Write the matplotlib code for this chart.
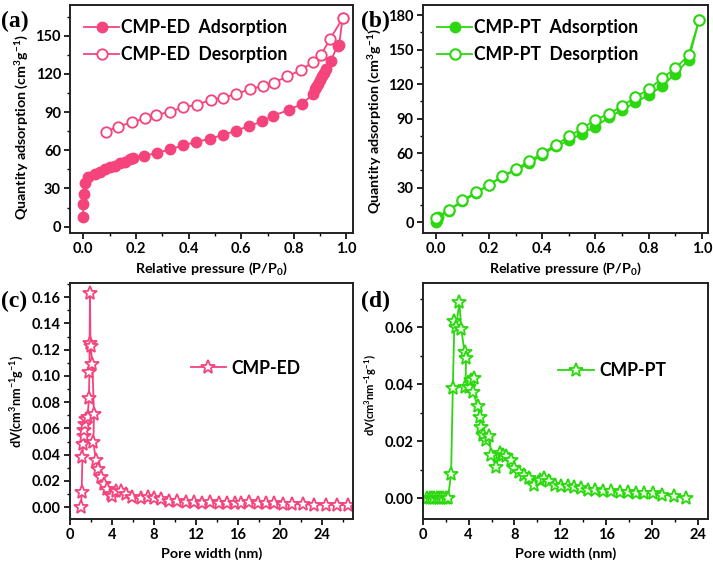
import numpy as np
import matplotlib
matplotlib.use('Agg')
import matplotlib.pyplot as plt
from matplotlib.ticker import MultipleLocator

# (a) CMP-ED isotherm
ed_ads_p = [0.0, 0.0, 0.003, 0.006, 0.019, 0.044, 0.063, 0.082, 0.101, 0.12, 0.139, 0.158, 0.177,
            0.19, 0.23, 0.28, 0.33, 0.38, 0.43, 0.48, 0.53, 0.58, 0.63, 0.68, 0.72, 0.78, 0.83,
            0.873, 0.88, 0.886, 0.89, 0.9, 0.906, 0.914, 0.924, 0.94, 0.966, 0.972, 0.985]
ed_ads_q = [7.9, 17.8, 26, 34.6, 38.7, 41, 43, 45, 46.6, 48, 49.7, 51, 53,
            54, 55.5, 58, 60.7, 64, 66.5, 69, 72, 75.4, 79, 82.7, 87, 91.6, 96.3,
            104, 108, 110, 112, 115, 118, 121, 124, 130, 142, 142.6, 163.6]
ed_des_p = [0.985, 0.937, 0.903, 0.871, 0.827, 0.775, 0.724, 0.684, 0.633, 0.58, 0.53,
            0.484, 0.433, 0.38, 0.33, 0.278, 0.234, 0.184, 0.133, 0.086]
ed_des_q = [163.6, 147, 135, 129, 123, 118, 113, 110.5, 108, 104, 101.3,
            99.5, 95.8, 93.7, 90.3, 87.7, 85, 82, 78.5, 74.6]

# (b) CMP-PT isotherm
pt_ads_p = [0.0, 0.003, 0.008, 0.05, 0.1, 0.15, 0.2, 0.25, 0.3, 0.35, 0.4, 0.45, 0.5, 0.55,
            0.6, 0.65, 0.7, 0.75, 0.8, 0.85, 0.9, 0.95, 0.99]
pt_ads_q = [0.3, 2, 4, 10, 18, 25, 32, 39.6, 45, 51, 58.5, 65.7, 71, 77,
            83, 91, 97.5, 104, 110.5, 118, 129, 141, 176]
pt_des_p = [0.99, 0.95, 0.9, 0.85, 0.8, 0.75, 0.7, 0.65, 0.6, 0.55, 0.5, 0.45, 0.4,
            0.35, 0.3, 0.25, 0.2, 0.15, 0.1, 0.05, 0.0]
pt_des_q = [176, 145, 133.7, 125, 115.5, 108.5, 101, 94, 89, 81.6, 74.4, 67, 60,
            52.7, 46, 40, 32.4, 25.8, 18.8, 10.7, 3.5]

# (c) CMP-ED pore size distribution
ed_w = [1.05, 1.11, 1.18, 1.24, 1.3, 1.37, 1.43, 1.52, 1.68, 1.8, 1.85, 1.9, 1.95, 1.97,
        2.13, 2.29, 2.23, 2.45, 2.67, 2.93, 3.25, 3.57, 3.89, 4.04, 4.36, 4.84, 5.3,
        5.96, 6.75, 7.4, 8.0, 8.66, 9.46, 10.25, 11.05, 11.85, 12.6, 13.4, 14.2, 15.0,
        15.7, 16.3, 17.1, 17.9, 18.7, 19.5, 20.3, 21.2, 22.2, 23.3, 24.4, 25.5, 26.5]
ed_dv = [0.0, 0.0113, 0.038, 0.048, 0.054, 0.059, 0.063, 0.0675, 0.0686, 0.083, 0.103, 0.163,
         0.125, 0.123, 0.109, 0.071, 0.05, 0.036, 0.029, 0.0226, 0.0176, 0.0138, 0.01,
         0.0085, 0.0125, 0.012, 0.01, 0.008, 0.007, 0.0075, 0.0072, 0.0063, 0.005, 0.0045,
         0.004, 0.0038, 0.0035, 0.0042, 0.0033, 0.003, 0.0028, 0.003, 0.0038, 0.0033,
         0.003, 0.0028, 0.0026, 0.0023, 0.0022, 0.002, 0.0018, 0.0017, 0.0015]

# (d) CMP-PT pore size distribution
pt_w = [0.4, 0.6, 0.8, 1.0, 1.2, 1.4, 1.6, 1.8, 2.0, 2.2, 2.47, 2.62, 2.76, 2.9, 3.2, 3.35,
        3.64, 3.78, 3.72, 4.07, 4.2, 4.5, 4.36, 4.8, 4.95, 5.1, 5.24, 5.5, 5.82, 5.96, 6.4,
        6.7, 6.98, 7.27, 7.7, 8.0, 8.44, 8.87, 9.3, 9.75, 10.2, 10.6, 11.05, 11.5, 12.07,
        12.65, 13.2, 13.8, 14.4, 15.0, 15.7, 16.4, 17.2, 17.9, 18.6, 19.35, 20.1, 20.9,
        21.96, 23.0]
pt_dv = [0, 0, 0, 0, 0, 0, 0, 0, 0, 0, 0.0085, 0.0385, 0.0623, 0.06, 0.0687, 0.0594,
         0.0513, 0.049, 0.039, 0.039, 0.0414, 0.042, 0.0373, 0.0323, 0.0285, 0.025, 0.022,
         0.0204, 0.0216, 0.015, 0.011, 0.0157, 0.0151, 0.0146, 0.0134, 0.0105, 0.0093,
         0.0082, 0.007, 0.0047, 0.0064, 0.007, 0.0058, 0.0047, 0.0043, 0.0041, 0.0038,
         0.0035, 0.0029, 0.0027, 0.0023, 0.0023, 0.0021, 0.002, 0.0017, 0.0017, 0.0017,
         0.0012, 0.0006, 0.0]

PINK = '#F5437C'
GREEN = '#2BD80F'
FONT = 'Lato'
TICK_FS = 10.5
LABEL_FS = 10.3
LEG_FS = 12.7

plt.rcParams['font.family'] = FONT
plt.rcParams['font.weight'] = 'bold'
plt.rcParams['axes.labelweight'] = 'bold'
plt.rcParams['mathtext.fontset'] = 'custom'
plt.rcParams['mathtext.rm'] = 'Lato:bold'
plt.rcParams['mathtext.it'] = 'Lato:bold'
plt.rcParams['mathtext.bf'] = 'Lato:bold'

fig = plt.figure(figsize=(7.13, 5.63), dpi=100)
ax_a = fig.add_axes([0.0982, 0.586, 0.397, 0.405])
ax_b = fig.add_axes([0.593, 0.586, 0.4, 0.405])
ax_c = fig.add_axes([0.0982, 0.078, 0.397, 0.419])
ax_d = fig.add_axes([0.593, 0.078, 0.4, 0.419])


def style(ax, xmaj, ymaj):
    for s in ax.spines.values():
        s.set_linewidth(1.4)
        s.set_color('#222222')
    ax.xaxis.set_major_locator(MultipleLocator(xmaj))
    ax.xaxis.set_minor_locator(MultipleLocator(xmaj / 2))
    ax.yaxis.set_major_locator(MultipleLocator(ymaj))
    ax.yaxis.set_minor_locator(MultipleLocator(ymaj / 2))
    ax.tick_params(which='major', direction='out', length=4, width=1.2, labelsize=TICK_FS,
                   top=False, right=False, pad=2.5)
    ax.tick_params(which='minor', direction='out', length=2.5, width=1.0,
                   top=False, right=False)


# (a)
ax_a.plot(ed_ads_p, ed_ads_q, '-o', color=PINK, lw=1.3, ms=7.5, mfc=PINK, mec=PINK,
          label='CMP-ED  Adsorption')
ax_a.plot(ed_des_p, ed_des_q, '-o', color=PINK, lw=1.3, ms=7.5, mfc='white', mec=PINK,
          mew=1.3, label='CMP-ED  Desorption')
ax_a.set_xlim(-0.05, 1.025)
ax_a.set_ylim(-5, 174)
style(ax_a, 0.2, 30)
ax_a.xaxis.set_major_formatter(plt.FormatStrFormatter('%.1f'))
ax_a.set_xlabel('Relative pressure (P/P$_0$)', fontsize=LABEL_FS, labelpad=3)
ax_a.set_ylabel('Quantity adsorption (cm$^3$g$^{-1}$)', fontsize=LABEL_FS, labelpad=3, y=0.465)
ax_a.legend(loc='upper left', frameon=False, fontsize=LEG_FS, handlelength=2.0,
            handletextpad=0.1, borderaxespad=0.4, labelspacing=0.55)

# (b)
ax_b.plot(pt_ads_p, pt_ads_q, '-o', color=GREEN, lw=1.3, ms=7.5, mfc=GREEN, mec=GREEN,
          label='CMP-PT  Adsorption')
ax_b.plot(pt_des_p, pt_des_q, '-o', color=GREEN, lw=1.3, ms=7.5, mfc='white', mec=GREEN,
          mew=1.5, label='CMP-PT  Desorption')
ax_b.set_xlim(-0.049, 1.023)
ax_b.set_ylim(-9.6, 188.7)
style(ax_b, 0.2, 30)
ax_b.xaxis.set_major_formatter(plt.FormatStrFormatter('%.1f'))
ax_b.set_xlabel('Relative pressure (P/P$_0$)', fontsize=LABEL_FS, labelpad=3)
ax_b.set_ylabel('Quantity adsorption (cm$^3$g$^{-1}$)', fontsize=LABEL_FS, labelpad=3, y=0.49)
ax_b.legend(loc='upper left', frameon=False, fontsize=LEG_FS, handlelength=2.0,
            handletextpad=0.1, borderaxespad=0.4, labelspacing=0.55)

# (c)
ax_c.plot(ed_w, ed_dv, '-*', color=PINK, lw=1.3, ms=10.5, mfc='white', mec=PINK, mew=1.3,
          label='CMP-ED')
ax_c.set_xlim(0, 27)
ax_c.set_ylim(-0.0091, 0.1707)
style(ax_c, 4, 0.02)
ax_c.yaxis.set_major_formatter(plt.FormatStrFormatter('%.2f'))
ax_c.set_xlabel('Pore width (nm)', fontsize=LABEL_FS, labelpad=4)
ax_c.set_ylabel('dV(cm$^3$nm$^{-1}$g$^{-1}$)', fontsize=9.2, labelpad=4, y=0.5)
ax_c.legend(loc='center left', bbox_to_anchor=(0.37, 0.64), frameon=False, fontsize=LEG_FS,
            handlelength=2.0, handletextpad=0.3)

# (d)
ax_d.plot(pt_w, pt_dv, '-*', color=GREEN, lw=1.3, ms=10.5, mfc='#E8FFE0', mec=GREEN, mew=1.3,
          label='CMP-PT')
ax_d.set_xlim(0, 24.9)
ax_d.set_ylim(-0.0074, 0.0754)
style(ax_d, 4, 0.02)
ax_d.yaxis.set_major_formatter(plt.FormatStrFormatter('%.2f'))
ax_d.set_xlabel('Pore width (nm)', fontsize=LABEL_FS, labelpad=4)
ax_d.set_ylabel('dV(cm$^3$nm$^{-1}$g$^{-1}$)', fontsize=8, labelpad=4, y=0.525)
ax_d.legend(loc='center left', bbox_to_anchor=(0.42, 0.63), frameon=False, fontsize=LEG_FS,
            handlelength=2.0, handletextpad=0.3)

# panel letters
for x, y, t in [(0.002, 0.952, '(a)'), (0.507, 0.952, '(b)'),
                (0.002, 0.455, '(c)'), (0.507, 0.455, '(d)')]:
    fig.text(x, y, t, family='Liberation Serif', weight='bold', fontsize=17)

fig.savefig('out.png', dpi=100)
